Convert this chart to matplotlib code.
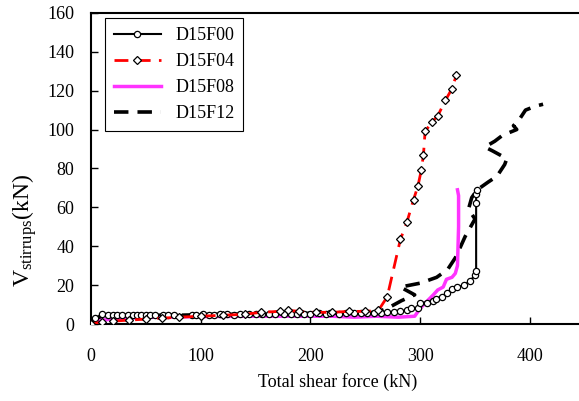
import matplotlib
matplotlib.use('Agg')
import matplotlib.pyplot as plt

plt.rcParams['font.family'] = ['Liberation Serif', 'DejaVu Serif']
plt.rcParams['mathtext.fontset'] = 'custom'
plt.rcParams['mathtext.rm'] = 'Liberation Serif'
plt.rcParams['mathtext.it'] = 'Liberation Serif:italic'

# D15F00 - black solid with circles
f00_x = [0, 4, 10, 16, 20, 24, 28, 34, 38, 42, 46, 50, 54, 58, 66, 70, 76, 92, 96, 102, 108, 112, 118, 124,
         130, 136, 144, 150, 156, 162, 168, 176, 182, 188, 194, 200, 208, 214, 218, 226, 232, 240, 246, 252,
         258, 264, 270, 276, 282, 288, 292, 298, 300, 306, 312, 314, 320, 324, 329, 334, 340, 345, 350, 351,
         351, 351, 352]
f00_y = [0, 3, 5, 4.8, 4.8, 4.6, 4.8, 4.7, 4.8, 4.6, 4.8, 4.6, 4.5, 4.7, 4.6, 4.8, 4.6, 4.7, 4.8, 4.9, 4.7,
         4.8, 4.9, 5.0, 4.8, 4.9, 5.0, 5.1, 5.0, 5.2, 4.9, 5.3, 5.1, 5.4, 5.2, 5.3, 5.5, 5.4, 5.6, 5.4, 5.6,
         5.5, 5.7, 5.6, 5.8, 5.9, 6.0, 6.2, 6.5, 7.0, 8.0, 8.0, 11, 11, 12, 13, 14, 16, 18, 19, 20, 22, 25,
         27, 62, 67, 69]

# D15F04 - red dashed with diamonds
f04_x = [0, 10, 20, 35, 50, 65, 80, 100, 120, 140, 155, 172, 180, 190, 205, 220, 235, 250, 262, 270,
         282, 288, 294, 298, 301, 303, 304.5, 311, 316, 323, 329, 333]
f04_y = [0, 1, 1.5, 2, 2.5, 3, 3.5, 4, 4.5, 5, 6, 6.5, 7, 6.5, 6, 6, 6.5, 6.5, 7, 14,
         43.5, 52.5, 64, 71, 79, 87, 99, 104, 107, 115, 121, 128]

# D15F08 - magenta solid
f08_x = [0, 10, 30, 60, 100, 140, 180, 220, 240, 260, 280, 295, 300, 305, 312, 316, 321, 324, 329,
         332, 334, 335, 335, 334]
f08_y = [0, 2, 3, 3.5, 3.8, 4, 4, 4, 3.5, 4, 3.5, 4, 8, 11, 15, 17.5, 19, 23, 24, 26, 30, 50, 66, 69]

# D15F12 - black dashed
f12_x = [0, 5, 15, 40, 80, 120, 160, 200, 240, 260, 270, 283, 295, 282, 300, 315, 325, 332, 337, 341,
         345, 350, 344, 347, 352, 362, 370, 377, 379, 366, 359, 368, 375, 388, 385, 389, 396, 405, 412]
f12_y = [0, 3, 4.5, 4.5, 4.5, 5, 5, 5.5, 5.5, 6, 8, 12, 15, 19, 21, 24, 28, 34, 40, 45,
         49, 54, 59, 65, 69, 73, 76, 82, 85, 89, 91, 94, 97, 100, 102, 104, 110, 112, 113]

fig = plt.figure(figsize=(5.79, 4.01), dpi=100)
ax = fig.add_axes([0.157, 0.192, 0.853, 0.776])

ax.plot(f00_x, f00_y, '-', color='black', lw=1.5, marker='o', ms=4.5,
        mfc='white', mec='black', mew=0.9, label='D15F00', zorder=4)
ax.plot(f04_x, f04_y, '--', color='red', lw=2.0, dashes=(5, 3), marker='D', ms=4,
        mfc='white', mec='black', mew=0.9, label='D15F04', zorder=5)
ax.plot(f08_x, f08_y, '-', color='#ff33ff', lw=2.5, label='D15F08', zorder=3)
ax.plot(f12_x, f12_y, '--', color='black', lw=2.6, dashes=(4, 2.5), label='D15F12', zorder=2)

ax.set_xlim(0, 450)
ax.set_ylim(0, 160)
ax.set_xticks([0, 100, 200, 300, 400])
ax.set_yticks(range(0, 161, 20))
ax.tick_params(direction='in', length=5, width=1, labelsize=13)
ax.tick_params(axis='x', pad=17)
ax.tick_params(axis='y', pad=12)
for s in ax.spines.values():
    s.set_linewidth(1.5)

ax.set_xlabel('Total shear force (kN)', fontsize=13, labelpad=6)
ax.set_ylabel(r'V$_{\mathrm{stirrups}}$(kN)', fontsize=17)
ax.yaxis.set_label_coords(-0.105, 0.30)

leg = ax.legend(loc='upper left', bbox_to_anchor=(0.028, 0.984), borderaxespad=0,
                fontsize=13, fancybox=False, edgecolor='black', framealpha=1,
                handlelength=2.6, labelspacing=0.5, borderpad=0.5)
leg.get_frame().set_linewidth(0.8)

fig.savefig('out.png', dpi=100)
